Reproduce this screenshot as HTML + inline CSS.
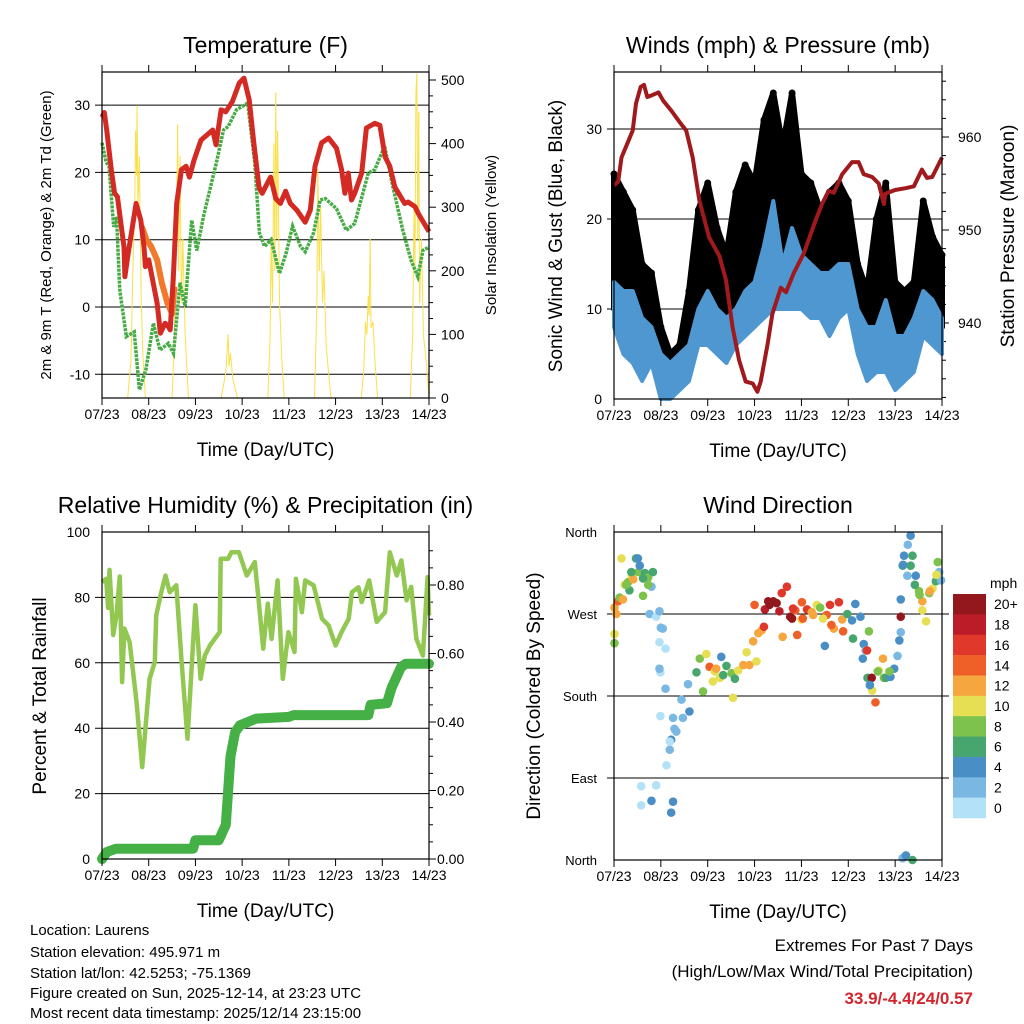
<!DOCTYPE html>
<html><head><meta charset="utf-8"><style>
html,body{margin:0;padding:0;background:#fff;}
svg{display:block;font-family:"Liberation Sans Narrow","Liberation Sans",sans-serif;}
</style></head><body>
<svg id="c" width="1024" height="1024" viewBox="0 0 1024 1024" xmlns="http://www.w3.org/2000/svg">
<rect width="1024" height="1024" fill="#fff"/>
<g id="g1"></g>
<g id="g2"></g>
<g id="g3"></g>
<g id="g4"></g>
<g font-size="15" fill="#000">
<text x="30" y="935">Location: Laurens</text>
<text x="30" y="957">Station elevation: 495.971 m</text>
<text x="30" y="978">Station lat/lon: 42.5253; -75.1369</text>
<text x="30" y="998">Figure created on Sun, 2025-12-14, at 23:23 UTC</text>
<text x="30" y="1018">Most recent data timestamp: 2025/12/14 23:15:00</text>
</g>
<g text-anchor="end">
<text x="973" y="951" font-size="17">Extremes For Past 7 Days</text>
<text x="973" y="977" font-size="17">(High/Low/Max Wind/Total Precipitation)</text>
<text x="973" y="1004" font-size="17" font-weight="bold" fill="#d0262c">33.9/-4.4/24/0.57</text>
</g>
</svg>
<script>
// ---------- DATA ----------
const dayLabels=["07/23","08/23","09/23","10/23","11/23","12/23","13/23","14/23"];
const tempT=[0,0.05,0.1,0.2,0.27,0.33,0.47,0.49,0.55,0.73,0.83,0.9,0.93,1.0,1.07,1.18,1.25,1.35,1.42,1.46,1.53,1.6,1.7,1.8,1.87,1.97,2.12,2.37,2.44,2.55,2.65,2.79,2.94,3.04,3.15,3.25,3.36,3.43,3.54,3.61,3.72,3.82,3.93,4.03,4.17,4.35,4.46,4.56,4.7,4.85,5.02,5.13,5.2,5.27,5.34,5.41,5.56,5.66,5.84,5.95,6.06,6.16,6.27,6.48,6.55,6.7,6.77,7.0];
const tempV=[28.2,28.9,26.3,20.4,16.9,16.4,8.9,4.5,7.5,15.4,12.9,8.9,6,7,4.5,0.6,-3.9,-2.4,-2.9,-3.4,5,15.4,20.4,20.9,19.3,21.8,24.8,26.3,24.1,29.3,29,30.5,33.3,34,30.8,24.4,17.8,16.9,18.4,19.3,16.1,15.4,17.2,15.4,14.4,12.6,14.4,20.9,24.4,25.1,23.6,20.4,16.9,19.9,15.9,16.9,19.9,26.6,27.3,27,22.3,20.9,17.8,15.4,15.6,14.9,13.9,11.2];
const t9T=[0.85,0.95,1.05,1.18,1.28,1.4,1.5,1.55];
const t9V=[12,10,9,7,3.6,0.6,-1,3];
const tdT=[0,0.09,0.15,0.25,0.31,0.38,0.52,0.69,0.8,0.94,1.1,1.24,1.42,1.53,1.67,1.78,1.92,2.03,2.17,2.46,2.6,2.7,2.88,3.12,3.27,3.37,3.48,3.62,3.8,3.94,4.08,4.25,4.35,4.53,4.67,4.78,5.02,5.23,5.41,5.7,5.84,6.05,6.23,6.44,6.62,6.76,6.87,7.0];
const tdV=[24.4,21.5,20.9,11.9,13.4,2.5,-4.4,-3.7,-12.3,-9.3,-2.4,-6.4,-5.4,-6.9,3.6,0.1,12.9,8.4,13.4,21.8,26.3,26.8,29.3,30.3,21.4,11,9,10,5,8,12,9,8.2,11,15.9,16.1,14.6,11.4,12.4,19.9,20.4,23.9,17.8,11.4,6.9,4.5,8.4,8.9];
const solarT=[0.55,0.62,0.66,0.7,0.72,0.74,0.75,0.77,0.8,0.84,0.88,0.93,1.5,1.55,1.6,1.62,1.64,1.67,1.7,1.73,1.78,1.85,2.55,2.65,2.7,2.72,2.75,2.8,2.9,3.55,3.6,3.62,3.65,3.68,3.7,3.72,3.74,3.76,3.8,3.85,3.9,4.55,4.6,4.62,4.65,4.68,4.72,4.75,4.8,4.9,5.55,5.6,5.64,5.67,5.7,5.72,5.74,5.76,5.8,5.85,5.9,6.6,6.65,6.68,6.7,6.72,6.74,6.76,6.78,6.8,6.84,6.88,6.95,7.0];
const solarV=[0,60,200,300,420,350,460,300,380,150,60,0,0,100,300,430,200,380,150,250,100,0,0,40,100,50,70,30,0,0,100,250,150,400,200,480,250,420,150,60,0,0,150,360,200,300,150,200,80,0,0,40,120,100,160,130,250,110,120,50,0,0,100,300,200,480,510,250,450,150,250,100,50,0];
const windT=[0,0.2,0.4,0.6,0.8,1.0,1.2,1.4,1.6,1.8,2.0,2.2,2.4,2.6,2.8,3.0,3.2,3.4,3.6,3.8,4.0,4.2,4.4,4.6,4.8,5.0,5.2,5.4,5.6,5.8,6.0,6.2,6.4,6.6,6.8,7.0];
const windLo=[8,5,4,2,4,0,0,1,2,6,6,5,4,6,7,8,9,10,10,10,10,9,9,7,9,10,5,2,3,3,1,2,3,7,6,5];
const windHi=[13,12,12,9,8,5,4,5,6,10,12,10,9,10,12,13,17,22,15,19,16,15,14,14,15,15,10,8,8,11,7,7,9,12,11,9];
const gustLo=[10,9,7,5,5,2,1,3,6,9,10,8,8,11,12,13,15,16,14,15,14,13,13,12,13,13,6,5,6,6,5,5,6,10,9,8];
const gustHi=[25,23,21,15,14,8,5,6,12,21,24,19,16,23,26,24,31,34,28,34,25,24,21,23,24,22,15,12,20,24,13,12,13,22,18,16];
const presT=[0,0.09,0.16,0.3,0.4,0.47,0.57,0.64,0.71,0.81,0.95,1.05,1.23,1.4,1.54,1.68,1.82,2.03,2.25,2.39,2.53,2.67,2.81,2.96,3.06,3.13,3.28,3.38,3.56,3.67,3.84,4.05,4.3,4.44,4.58,4.69,4.87,5.08,5.22,5.33,5.51,5.65,5.76,5.79,6.0,6.22,6.4,6.57,6.68,6.79,7.0];
const presV=[954.8,955.2,957.8,959.5,960.7,963.6,965.4,965.6,964.3,964.5,964.8,963.9,962.8,961.6,960.7,957.8,953.2,949.2,947.2,944.6,939.6,936.0,933.7,933.5,932.6,933.7,937.8,941,943.8,943.3,945.4,947.5,951,952.8,954.2,954,956,957.3,957.3,956,955.7,955,952.8,953.9,954.3,954.5,954.7,956.5,955.6,955.7,957.8];
const rhT=[0,0.09,0.13,0.16,0.24,0.31,0.38,0.43,0.48,0.59,0.74,0.86,1.02,1.13,1.16,1.27,1.36,1.45,1.59,1.7,1.83,1.95,2.0,2.11,2.2,2.31,2.52,2.54,2.7,2.77,2.93,3.1,3.27,3.35,3.45,3.55,3.63,3.76,3.87,3.99,4.12,4.15,4.28,4.35,4.53,4.71,4.85,5.0,5.13,5.28,5.35,5.49,5.56,5.72,5.88,6.06,6.16,6.31,6.41,6.52,6.62,6.73,6.87,6.97,7.0];
const rhV=[84.7,85.7,76.8,88.4,68.5,74.7,86.4,54.1,70.5,66.4,47.9,28.1,55.1,60.2,74.5,81.6,86.7,81.6,83.7,61.2,36.8,66.3,77.6,55.1,62.2,65.3,69.4,91.8,91.8,93.8,93.8,86.7,90.8,79.6,64.3,78.1,67.3,85.2,55.1,69.4,63.3,85.7,75.5,85.2,83.7,73.5,71.4,65.3,69.4,73.5,81.6,83.1,78.6,85.2,72.5,75.5,93.8,86.7,91.3,79.1,83.2,67.3,62.2,86.2,74.5];
const rainT=[0,0.1,0.3,1.95,2.0,2.5,2.65,2.75,2.85,2.95,3.3,4.0,4.1,5.7,5.75,6.1,6.2,6.4,6.5,7.0];
const rainV=[0,0.02,0.03,0.03,0.055,0.055,0.1,0.3,0.37,0.39,0.41,0.415,0.42,0.42,0.45,0.455,0.5,0.56,0.57,0.57];
const dirT=[0.01,0.05,0.01,0.01,0.09,0.12,0.19,0.23,0.3,0.33,0.38,0.41,0.47,0.52,0.55,0.62,0.66,0.69,0.73,0.76,0.8,0.9,1.04,1.0,0.97,1.1,0.99,0.99,1.1,1.26,1.22,1.19,1.29,1.44,1.58,1.12,1.26,1.22,0.58,0.58,0.8,0.9,1.76,1.83,1.97,2.04,2.15,2.26,2.29,2.4,2.51,2.58,2.65,2.76,2.83,2.97,3.08,3.15,3.2,3.22,3.29,3.4,3.47,3.58,3.69,3.76,3.8,3.87,3.91,4.01,4.12,4.22,4.33,4.4,4.54,4.61,4.69,4.8,4.87,4.98,5.08,5.15,5.26,5.33,5.37,5.44,5.41,5.51,5.58,5.65,5.76,5.8,5.9,5.98,6.05,6.09,6.12,6.12,6.16,6.19,6.26,6.33,6.33,6.37,6.44,6.51,6.58,6.58,6.66,6.73,6.8,6.87,6.91,6.94,6.98,6.16,6.23,6.37,6.12,5.4,5.5,3.0,3.6,4.0,4.5,
 0.16,0.26,0.37,0.51,0.62,0.73,0.83,0.97,0.97,1.19,1.33,1.47,1.61,1.9,2.11,2.18,2.33,2.54,2.89,3.04,3.32,3.53,3.82,4.03,4.25,4.46,4.64,4.89,5.1,5.31,5.46,5.63,5.74,5.88,6.17,6.27,6.42,6.52,6.74,6.88];
const dirV=[277,270,248,238,284,288,286,302,305,296,312,308,331,316,323,290,315,309,310,270,300,267,254,255,239,232,206,158,188,156,132,121,144,176,193,104,64,52,81,60,65,82,206,221,226,212,207,200,223,213,205,199,208,214,228,240,249,252,256,275,284,284,282,293,300,267,265,274,247,283,275,272,280,277,269,280,254,283,264,270,263,281,267,237,230,251,200,186,173,208,200,200,201,210,224,241,250,286,323,334,312,356,323,334,312,295,284,274,262,293,298,306,327,316,307,2,5,0,267,230,200,280,245,264,235,
 331,302,316,331,309,302,316,273,210,130,141,156,163,185,196,210,203,178,214,218,280,273,276,265,269,265,258,251,243,221,192,207,221,207,324,346,302,291,295,313];
const dirS=[12,12,10,8,14,8,12,10,8,6,10,12,6,8,4,8,6,6,8,2,2,0,2,2,0,0,0,0,2,2,4,2,2,2,2,0,4,4,0,0,4,0,6,8,10,14,10,10,4,6,8,6,10,12,10,12,12,12,16,18,20,20,20,16,16,20,20,14,14,14,16,12,10,8,14,16,12,16,12,6,4,4,4,4,2,8,6,10,14,10,8,6,4,4,2,4,2,4,6,4,2,4,6,6,4,8,12,10,10,8,10,6,8,2,2,2,4,6,20,16,20,14,12,10,4,
 10,8,6,4,6,8,6,2,2,0,2,2,4,8,10,12,6,10,12,10,20,18,16,14,12,10,14,14,6,4,4,8,12,8,4,2,6,8,12,10];
const speedLabels=["20+","18","16","14","12","10","8","6","4","2","0"];
const speedColors=["#93181d","#bb1c27","#e0382a","#ef6029","#f6a63f","#e6df54","#7cc24c","#47a66e","#4a8ec6","#7ab7e2","#b3e1f7"];

// ---------- HELPERS ----------
const NS="http://www.w3.org/2000/svg";
function mk(tag,attrs,parent){const e=document.createElementNS(NS,tag);for(const k in attrs)e.setAttribute(k,attrs[k]);parent.appendChild(e);return e;}
function txt(parent,x,y,s,size,anchor,extra){const e=mk("text",Object.assign({x:x,y:y,"font-size":size,"text-anchor":anchor||"middle"},extra||{}),parent);e.textContent=s;return e;}
function panel(g,L,R,T,B){return {L,R,T,B,x:d=>L+d/7*(R-L)};}
function frame(g,p,title,xtitle){
  mk("rect",{x:p.L,y:p.T,width:p.R-p.L,height:p.B-p.T,fill:"none",stroke:"#000","stroke-width":1.2},g);
  for(let i=0;i<8;i++){const x=p.x(i);
    mk("line",{x1:x,y1:p.B,x2:x,y2:p.B+7,stroke:"#000"},g);
    mk("line",{x1:x,y1:p.T,x2:x,y2:p.T-7,stroke:"#000"},g);
    const t=txt(g,x,p.B+21,dayLabels[i],14);
    
    
  }
  const tt=txt(g,(p.L+p.R)/2,p.T-19,title,23);
  
  
  const xt=txt(g,(p.L+p.R)/2,p.B+58,xtitle,19);
  
  
}
function pts(ts,vs,fx,fy){return ts.map((t,i)=>fx(t).toFixed(1)+","+fy(vs[i]).toFixed(1)).join(" ");}
function ylab(g,x,y,s){return txt(g,x,y,s,19,"middle",{transform:"rotate(-90 "+x+" "+y+")"});}

// ---------- PANEL 1 ----------
(function(){
 const g=document.getElementById("g1");
 const p=panel(g,102,429,72,398);
 const y=v=>307-v*6.73;
 const ys=v=>398-v*0.636;
 [30,20,10,0,-10].forEach(v=>{mk("line",{x1:p.L-7,y1:y(v),x2:p.R,y2:y(v),stroke:"#000","stroke-width":1},g);
  const t=txt(g,p.L-12,y(v)+5,String(v),14,"end");});
 for(let v=0;v<=500;v+=25){mk("line",{x1:p.R,y1:ys(v),x2:p.R+(v%100?4:7),y2:ys(v),stroke:"#000"},g);}
 [0,100,200,300,400,500].forEach(v=>{const t=txt(g,p.R+12,ys(v)+5,String(v),14,"start");});
 for(let i=0;i<solarT.length-1;i++){ if(solarV[i]===0&&solarV[i+1]===0) continue;
  const l=mk("line",{x1:p.x(solarT[i]),y1:ys(solarV[i]),x2:p.x(solarT[i+1]),y2:ys(solarV[i+1]),stroke:"#f9e04a","stroke-width":1},g);
  
  }
 const td=mk("polyline",{points:pts(tdT,tdV,p.x,y),fill:"none",stroke:"#45ab44","stroke-width":3.5,"stroke-dasharray":"3 1"},g);
 
 const t9=mk("polyline",{points:pts(t9T,t9V,p.x,y),fill:"none",stroke:"#f07a2a","stroke-width":6,"stroke-linejoin":"round"},g);
 
 const t2=mk("polyline",{points:pts(tempT,tempV,p.x,y),fill:"none",stroke:"#d42a24","stroke-width":5,"stroke-linejoin":"round"},g);
 
 frame(g,p,"Temperature (F)","Time (Day/UTC)");
 const a=txt(g,51,235,"2m & 9m T (Red, Orange) & 2m Td (Green)",15,"middle",{transform:"rotate(-90 51 235)"});
 
 const b=txt(g,496,235,"Solar Insolation (Yellow)",15,"middle",{transform:"rotate(-90 496 235)"});
 
})();

// ---------- PANEL 2 ----------
(function(){
 const g=document.getElementById("g2");
 const p=panel(g,614,942,72,399);
 const y=v=>399-v*9;
 const yp=v=>137-(v-960)*9.3;
 [30,20,10].forEach(v=>mk("line",{x1:p.L-7,y1:y(v),x2:p.R,y2:y(v),stroke:"#000"},g));
 [0,10,20,30].forEach(v=>{const t=txt(g,p.L-12,y(v)+5,String(v),14,"end");});
 for(let v=932;v<=966;v+=2){mk("line",{x1:p.R,y1:yp(v),x2:p.R+(v%10?4:7),y2:yp(v),stroke:"#000"},g);}
 [940,950,960].forEach(v=>{const t=txt(g,p.R+16,yp(v)+5,String(v),14,"start");});
 const gp=windT.map((t,i)=>p.x(t)+","+y(gustHi[i])).join(" ")+" "+windT.slice().reverse().map((t,j)=>{const i=windT.length-1-j;return p.x(t)+","+y(gustLo[i]);}).join(" ");
 const gb=mk("polygon",{points:gp,fill:"#000",stroke:"#000","stroke-width":6,"stroke-linejoin":"round"},g);
 
 windT.forEach((t,i)=>{const c=mk("circle",{cx:p.x(t),cy:y(gustHi[i]),r:3.5,fill:"#000"},g);
  });
 const wp=windT.map((t,i)=>p.x(t)+","+y(windHi[i])).join(" ")+" "+windT.slice().reverse().map((t,j)=>{const i=windT.length-1-j;return p.x(t)+","+y(windLo[i]);}).join(" ");
 const wb=mk("polygon",{points:wp,fill:"#4f97d1",stroke:"#4f97d1","stroke-width":4,"stroke-linejoin":"round"},g);
 
 const pr=mk("polyline",{points:pts(presT,presV,p.x,yp),fill:"none",stroke:"#a0191c","stroke-width":4,"stroke-linejoin":"round"},g);
 
 frame(g,p,"Winds (mph) & Pressure (mb)","Time (Day/UTC)");
 const a=ylab(g,562,236,"Sonic Wind & Gust (Blue, Black)");
 
 const b=ylab(g,1014,236,"Station Pressure (Maroon)");
 
})();

// ---------- PANEL 3 ----------
(function(){
 const g=document.getElementById("g3");
 const p=panel(g,102,429,532,859);
 const y=v=>859-v*3.27;
 const yr=v=>859-v*342.5;
 [80,60,40,20].forEach(v=>mk("line",{x1:p.L-7,y1:y(v),x2:p.R,y2:y(v),stroke:"#000"},g));
 [0,20,40,60,80,100].forEach(v=>{const t=txt(g,p.L-12,y(v)+5,String(v),14,"end");});
 for(let v=0;v<=0.95;v+=0.05){mk("line",{x1:p.R,y1:yr(v),x2:p.R+(Math.round(v*100)%20?4:7),y2:yr(v),stroke:"#000"},g);}
 [0,0.2,0.4,0.6,0.8].forEach(v=>{const t=txt(g,p.R+8,yr(v)+5,v.toFixed(2),14,"start");});
 const rh=mk("polyline",{points:pts(rhT,rhV,p.x,y),fill:"none",stroke:"#92c851","stroke-width":4.5,"stroke-linejoin":"round"},g);
 
 const rn=mk("polyline",{points:pts(rainT,rainV,p.x,yr),fill:"none",stroke:"#45b046","stroke-width":10,"stroke-linejoin":"round","stroke-linecap":"round"},g);
 
 frame(g,p,"Relative Humidity (%) & Precipitation (in)","Time (Day/UTC)");
 const a=ylab(g,46,696,"Percent & Total Rainfall");
 
})();

// ---------- PANEL 4 ----------
(function(){
 const g=document.getElementById("g4");
 const p=panel(g,614,942,532,860);
 const y=v=>860-v/360*328;
 const names=["North","East","South","West","North"];
 [0,90,180,270,360].forEach((v,i)=>{ if(i>0&&i<4) mk("line",{x1:p.L-7,y1:y(v),x2:p.R+7,y2:y(v),stroke:"#000"},g);
  const t=txt(g,p.L-17,y(v)+5,names[i],13,"end");});
 function col(s){let k=Math.min(10,Math.floor(s/2));return speedColors[10-k];}
 dirT.forEach((t,i)=>{const c=mk("circle",{cx:p.x(t),cy:y(dirV[i]),r:4.3,fill:col(dirS[i])},g);
  });
 frame(g,p,"Wind Direction","Time (Day/UTC)");
 const a=ylab(g,540,696,"Direction (Colored By Speed)");
 
 const lg=mk("g",{},g);
 
 const m=txt(lg,990,588,"mph",14,"start");
 const bh=224/11;
 speedLabels.forEach((s,i)=>{const r=mk("rect",{x:953,y:594+i*bh,width:33,height:bh+0.3,fill:speedColors[i]},lg);
  
  const t=txt(lg,994,594+i*bh+bh/2+5,s,14,"start");});
})();
</script>
</body></html>
